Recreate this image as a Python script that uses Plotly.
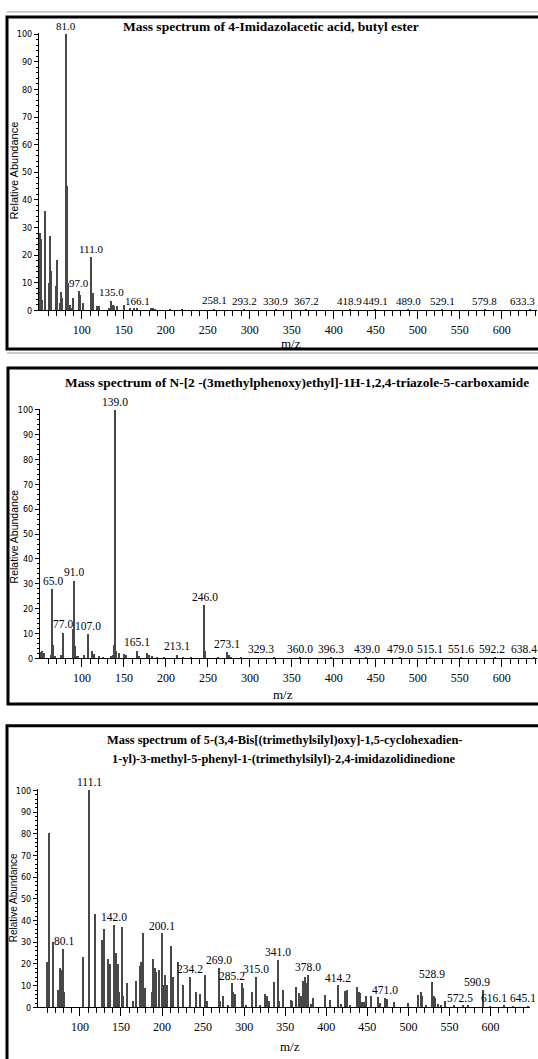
import plotly.graph_objects as go

W, H = 538, 1059

# ---------------- data ----------------
titles = [
    ["Mass spectrum of 4-Imidazolacetic acid, butyl ester"],
    ["Mass spectrum of N-[2 -(3methylphenoxy)ethyl]-1H-1,2,4-triazole-5-carboxamide"],
    ["Mass spectrum of 5-(3,4-Bis[(trimethylsilyl)oxy]-1,5-cyclohexadien-",
     "1-yl)-3-methyl-5-phenyl-1-(trimethylsilyl)-2,4-imidazolidinedione"],
]

mz1 = [50, 52, 53, 56, 61, 62, 63.5, 64, 69, 70.6, 74, 75.4, 76.5, 81, 82, 84, 86, 87, 90,
       97, 98, 101, 111, 113, 114, 118, 120, 133, 135, 137, 139, 142, 150, 158, 162, 166,
       183, 185, 187, 205, 220, 258.1, 293.2, 330.9, 367.2, 418.9, 449.1, 489.0, 529.1,
       579.8, 633.3]
ab1 = [28, 26, 4, 36, 10, 27, 14.5, 11, 9, 18.5, 2.6, 6.8, 4.6, 100, 45, 10, 2, 1, 4.6,
       7, 5.6, 2.6, 19.3, 6.2, 2, 1.8, 1.8, 1, 3.6, 2.2, 1.8, 1.6, 2, 1, 1, 1,
       1, 0.8, 0.6, 0.5, 0.4, 0.7, 0.6, 0.5, 0.6, 0.5, 0.5, 0.4, 0.5, 0.6, 0.5]
lab1 = [81.0, 111.0, 97.0, 135.0, 166.1, 258.1, 293.2, 330.9, 367.2, 418.9, 449.1,
        489.0, 529.1, 579.8, 633.3]

mz2 = [51, 53, 55, 63, 64, 65, 66, 68, 75, 77, 78, 89, 90, 91, 92, 94, 96, 103, 107, 112,
       115, 120, 125, 135, 137, 138, 139, 140, 141, 144, 150, 152, 165.1, 166, 168, 178,
       180, 183, 190, 198, 213.1, 221, 230, 245, 246, 247, 262, 273.1, 275, 278, 290,
       329.3, 360.0, 396.3, 439.0, 479.0, 515.1, 551.6, 592.2, 638.4]
ab2 = [2.8, 3, 2.5, 1.5, 8.5, 28, 5.5, 1, 1.5, 10.6, 3.5, 2, 12, 31.5, 5, 1, 1, 1.5, 10,
       3, 2, 1, 0.8, 1, 1.5, 5.7, 100, 9.3, 3, 2.5, 2, 1.6, 3.3, 2.5, 1, 2.5, 1.5, 1,
       0.7, 0.6, 1.6, 0.6, 0.6, 1, 21.5, 3, 0.6, 2.6, 1.4, 0.8, 0.5,
       0.5, 0.4, 0.6, 0.4, 0.4, 0.5, 0.4, 0.4, 0.4]
lab2 = [139.0, 65.0, 91.0, 77.0, 107.0, 165.1, 213.1, 246.0, 273.1, 329.3, 360.0,
        396.3, 439.0, 479.0, 515.1, 551.6, 592.2, 638.4]

mz3 = [60, 62, 67, 73, 76, 78, 80.1, 81, 104, 111.1, 118, 127, 130, 134, 137, 142.0, 143,
       144, 146, 147, 148, 151, 153, 158, 165, 168, 173, 175, 177, 180, 188, 189, 191,
       193, 196, 200.1, 202, 204, 206, 211, 213, 219, 226, 234.2, 241, 246, 252, 255,
       269.0, 271, 274, 280, 285.2, 287, 289, 297, 299, 302, 310, 315.0, 320,
       326, 328, 330, 337, 341.0, 343, 348, 357, 358, 363, 367, 369, 372, 374, 376, 378.0,
       381, 384, 399, 405, 414.2, 418, 423, 425, 429, 437, 440, 441, 444, 446, 449, 454,
       463, 466, 471.0, 474, 483, 499, 512, 515, 517, 522, 528.9, 531, 533, 536, 540,
       545, 555, 566, 572.5, 590.9, 600, 616.1, 628, 645.1]
ab3 = [21, 80, 30, 8, 18, 17, 27, 7, 23, 100, 43, 31, 36, 22, 20, 38, 13,
       25, 20, 10, 7, 37, 5, 11, 3, 12, 19, 21, 34, 9, 7, 22, 18,
       16, 17, 34, 10, 15, 10, 28, 14, 21, 10, 14, 7, 6, 15, 3,
       18, 3, 5, 1, 11, 7, 6, 11, 9, 1, 7, 14, 1,
       6, 5, 3, 11.5, 21.7, 3, 8, 3.4, 3, 9.5, 6.4, 5, 12, 14, 11, 14.8,
       1.4, 4, 5.7, 3.4, 10, 1.5, 7.5, 8, 1, 9.5, 7, 6.4, 2.5, 2.5, 5, 5.2,
       4.6, 2, 4.4, 3.7, 2.3, 1.8, 5.4, 7.2, 5, 1, 11.8, 5, 4, 1.5, 1,
       2.6, 0.8, 0.8, 0.8, 8, 0.5, 0.8, 0.5, 0.5]
lab3 = [80.1, 111.1, 142.0, 200.1, 234.2, 269.0, 285.2, 315.0, 341.0, 378.0, 414.2,
        471.0, 528.9, 572.5, 590.9, 616.1, 645.1]

major_x = list(range(100, 601, 50))
minor_x = [v for v in range(60, 641, 10) if v % 50]
major_y = list(range(0, 101, 10))
minor_y = [v for v in range(0, 101, 2) if v % 10]

# ---------------- layout geometry (pixels) ----------------
def px(x):
    return x / W

def py(y):
    return 1 - y / H

# label placement tweaks: m/z -> (xanchor, xshift in px)
panels = [
    dict(mz=mz1, ab=ab1, lab=lab1, xd=(39, 537), xr=(49, 642), yd=(309, 29),
         box=(7, 13, 541, 348), title_y=[23], title_x=271, title_size=13.5,
         ylab=(14, 168, 11), mz_y=342, mz_x=291, lab_size=11,
         tweak={633.3: ("right", 7)}),
    dict(mz=mz2, ab=ab2, lab=lab2, xd=(40, 537), xr=(50, 642), yd=(660, 408),
         box=(8, 367, 541, 706), title_y=[382], title_x=297, title_size=13.4,
         ylab=(14, 537, 10.5), mz_y=696, mz_x=283, lab_size=11.5,
         tweak={329.3: ("right", 2), 592.2: ("center", -3), 638.4: ("right", 5)}),
    dict(mz=mz3, ab=ab3, lab=lab3, xd=(38, 530), xr=(49, 648), yd=(1012, 792),
         box=(7, 728, 541, 1070), title_y=[742, 761], title_x=284, title_size=12.4,
         ylab=(13, 902, 10), mz_y=1051, mz_x=290, lab_size=11.5,
         tweak={572.5: ("center", -8), 590.9: ("center", -6), 616.1: ("center", -10),
                645.1: ("right", 10)}),
]

fig = go.Figure()
annotations = []
shapes = []
layout = {}

for i, p in enumerate(panels, start=1):
    xa = "x" if i == 1 else f"x{i}"
    ya = "y" if i == 1 else f"y{i}"
    fig.add_trace(go.Bar(x=p["mz"], y=p["ab"], xaxis=xa, yaxis=ya, width=1.5,
                         marker=dict(color="#484848", line=dict(width=0)),
                         showlegend=False, hoverinfo="x+y"))
    xkey = "xaxis" if i == 1 else f"xaxis{i}"
    ykey = "yaxis" if i == 1 else f"yaxis{i}"
    layout[xkey] = dict(
        domain=[px(p["xd"][0]), px(p["xd"][1])], range=list(p["xr"]), anchor=ya,
        showline=True, linecolor="black", linewidth=1, showgrid=False, zeroline=False,
        tickmode="array", tickvals=major_x, ticks="outside", ticklen=8, tickwidth=1,
        tickcolor="black",
        minor=dict(tickmode="array", tickvals=minor_x, ticks="outside", ticklen=5,
                   tickwidth=1, tickcolor="black"),
        tickfont=dict(family="Liberation Serif", size=12, color="black"),
    )
    layout[ykey] = dict(
        domain=[py(p["yd"][0]), py(p["yd"][1])], range=[0, 100.5], anchor=xa,
        showline=True, linecolor="black", linewidth=1, showgrid=False, zeroline=False,
        tickmode="array", tickvals=major_y, ticks="outside", ticklen=4, tickwidth=1,
        tickcolor="black", ticklabelstandoff=0,
        minor=dict(tickmode="array", tickvals=minor_y, ticks="outside", ticklen=2,
                   tickwidth=1, tickcolor="black"),
        tickfont=dict(family="Liberation Sans Narrow, DejaVu Sans Condensed, Liberation Sans",
                      size=9, color="black"),
    )
    # peak labels
    lookup = dict(zip(p["mz"], p["ab"]))
    for m in p["lab"]:
        anc, sh = p["tweak"].get(m, ("center", 0))
        annotations.append(dict(
            x=m, y=lookup.get(m, 0.5), xref=xa, yref=ya, text=f"{m:.1f}",
            showarrow=False, yanchor="bottom", xanchor=anc, xshift=sh,
            font=dict(family="Liberation Serif", size=p["lab_size"], color="black")))
    # title (one annotation per line)
    for line, ty in zip(titles[i - 1], p["title_y"]):
        annotations.append(dict(
            x=px(p["title_x"]), y=py(ty), xref="paper", yref="paper",
            text=f"<b>{line}</b>", showarrow=False, xanchor="center", yanchor="middle",
            font=dict(family="Liberation Serif", size=p["title_size"], color="black")))
    # y-axis title
    yl = p["ylab"]
    annotations.append(dict(
        x=px(yl[0]), y=py(yl[1]), xref="paper", yref="paper",
        text="Relative Abundance", textangle=-90, showarrow=False,
        xanchor="center", yanchor="middle",
        font=dict(family="Liberation Sans", size=yl[2], color="black")))
    # x-axis title
    annotations.append(dict(
        x=px(p["mz_x"]), y=py(p["mz_y"]), xref="paper", yref="paper",
        text="m/z", showarrow=False, xanchor="center", yanchor="middle",
        font=dict(family="Liberation Serif", size=13, color="black")))
    # frame
    b = p["box"]
    shapes.append(dict(type="rect", xref="paper", yref="paper",
                       x0=px(b[0]), x1=px(b[2]), y0=py(b[3]), y1=py(b[1]),
                       line=dict(color="black", width=3), fillcolor="rgba(0,0,0,0)"))

# thin grey separator lines above frames
for yy in (8, 352):
    shapes.append(dict(type="line", xref="paper", yref="paper",
                       x0=px(7), x1=px(541), y0=py(yy), y1=py(yy),
                       line=dict(color="#9a9a9a", width=1)))

fig.update_layout(
    width=W, height=H, margin=dict(l=0, r=0, t=0, b=0),
    paper_bgcolor="white", plot_bgcolor="white", bargap=0,
    annotations=annotations, shapes=shapes, showlegend=False, **layout,
)

fig.write_html("out.html", config={"displayModeBar": False},
               post_script="document.body.style.margin='0';document.body.style.overflow='hidden';")
